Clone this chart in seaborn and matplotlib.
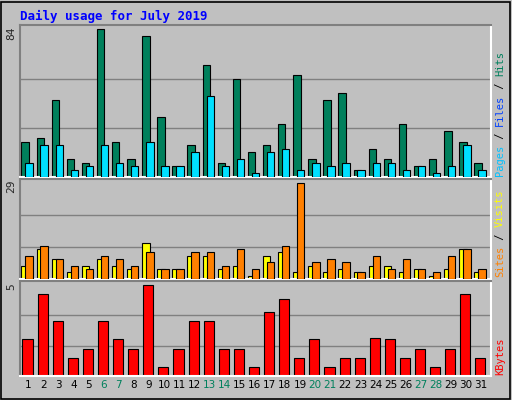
import matplotlib
matplotlib.use("Agg")
import matplotlib.pyplot as plt
import seaborn as sns
import numpy as np

sns.set_style("white")
plt.rcParams['font.family'] = ['DejaVu Sans Mono', 'DejaVu Sans']

days = list(range(1, 32))
weekend = [6, 7, 13, 14, 20, 21, 27, 28]
hits = [20,22,44,10,8,84,20,10,80,34,6,18,64,8,56,14,18,30,58,10,44,48,4,16,10,30,6,10,26,20,8]
files = [8,18,18,4,6,18,8,6,20,6,6,14,46,6,10,2,14,16,4,8,6,8,4,8,8,4,6,2,6,18,4]
sites = [4,9,6,2,4,6,4,3,11,3,3,7,7,3,4,1,7,8,2,4,2,3,2,4,4,2,3,1,3,9,2]
visits = [7,10,6,4,3,7,6,4,8,3,3,8,8,4,9,3,5,10,29,5,6,5,2,7,3,6,3,2,7,9,3]
kbytes = [2.0,4.5,3.0,1.0,1.5,3.0,2.0,1.5,5.0,0.5,1.5,3.0,3.0,1.5,1.5,0.5,3.5,4.2,1.0,2.0,0.5,1.0,1.0,2.1,2.0,1.0,1.5,0.5,1.5,4.5,1.0]

BG = "#C0C0C0"
fig = plt.figure(figsize=(5.12, 4.0), dpi=100, facecolor=BG)
# outer border
fig.patches.append(plt.Rectangle((0.002, 0.003), 0.994, 0.993, transform=fig.transFigure,
                                 fill=False, edgecolor="black", lw=1.2))
fig.text(20/512, 1-16/400, "Daily usage for July 2019", color="#0000FF", fontsize=9,
         fontweight="bold", va="center", ha="left")

x = np.array(days)
L = 20/512; W = 471/512

def mk(top, bot):
    ax = fig.add_axes([L, 1-bot/400, W, (bot-top)/400])
    ax.set_facecolor(BG)
    ax.set_xlim(0.4, 31.6)
    ax.set_xticks([]); ax.set_yticks([])
    for s in ["top", "left"]:
        ax.spines[s].set_color("#808080")
    for s in ["bottom", "right"]:
        ax.spines[s].set_color("white")
    for s in ax.spines.values():
        s.set_linewidth(1.5)
    return ax

ax1 = mk(25, 177)
ymax = 84 * 1.03
ax1.set_ylim(0, ymax)
for g in (28, 56):
    ax1.axhline(g, color="#808080", lw=1, zorder=0)
ax1.bar(x - 0.26, hits, width=0.49, color="#00805C", edgecolor="black", lw=0.8, zorder=2)
ax1.bar(x + 0.0, files, width=0.49, color="#00E0FF", edgecolor="black", lw=0.8, zorder=3)
fig.text(11/512, 1-33/400, "84", rotation=90, fontsize=8, ha="center", va="center")

ax2 = mk(179, 279)
ax2.set_ylim(0, 29 * 1.04)
for g in (29/3, 58/3):
    ax2.axhline(g, color="#808080", lw=1, zorder=0)
ax2.bar(x - 0.26, sites, width=0.49, color="#FFFF00", edgecolor="black", lw=0.8, zorder=2)
ax2.bar(x + 0.0, visits, width=0.49, color="#FF8000", edgecolor="black", lw=0.8, zorder=3)
fig.text(11/512, 1-186/400, "29", rotation=90, fontsize=8, ha="center", va="center")

ax3 = mk(281, 376)
ax3.set_ylim(0, 5 * 1.04)
for g in (5/3, 10/3):
    ax3.axhline(g, color="#808080", lw=1, zorder=0)
ax3.bar(x - 0.1, kbytes, width=0.67, color="#FF0000", edgecolor="black", lw=0.8, zorder=2)
fig.text(11/512, 1-287/400, "5", rotation=90, fontsize=8, ha="center", va="center")

# day labels
for d in days:
    ax3.text(d - 0.05, -0.1, str(d), transform=ax3.get_xaxis_transform(), ha="center", va="center",
             fontsize=7.5, color="#00805C" if d in weekend else "black",
             family="DejaVu Sans")

# right legends
def rlab(parts, ybot):
    y = ybot
    for txt, col in parts:
        t = fig.text(500/512, y, txt, rotation=90, color=col, fontsize=7.5, ha="center", va="bottom")
        fig.canvas.draw()
        bb = t.get_window_extent()
        y += bb.height / 400 / 1.0 * (100/fig.dpi)
rlab([("Pages", "#00C0FF"), (" / ", "black"), ("Files", "#0040FF"), (" / ", "black"), ("Hits", "#00805C")], 1-176/400)
rlab([("Sites", "#FF8000"), (" / ", "black"), ("Visits", "#FFFF00")], 1-277/400)
rlab([("KBytes", "#FF0000")], 1-375/400)

fig.savefig("out.png", dpi=100, facecolor=BG)
